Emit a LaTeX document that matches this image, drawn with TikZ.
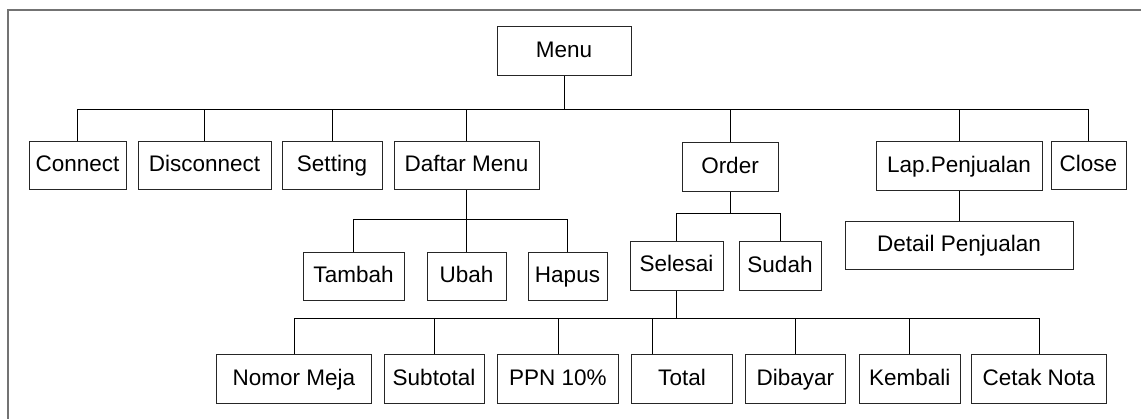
\documentclass[tikz,border=0pt]{standalone}
\usepackage{fontspec}
\setmainfont{Liberation Sans}
\begin{document}
\begin{tikzpicture}[x=1pt,y=-1pt,
  box/.style={draw=black!85, line width=1pt, inner sep=0pt, text height=16.5pt, text depth=5pt,
    font=\fontsize{22.5}{27}\selectfont, minimum height=48pt},
  link/.style={draw=black, line width=1pt},
  frame/.style={draw=black!55, line width=2pt}]
\useasboundingbox (0,0) rectangle (1141,419);
\draw[frame] (8,419) -- (8,10) -- (1141,10);
% level 0
\node[box, minimum width=134pt, minimum height=49pt] (menu) at (564,51.5) {Menu};
% level 1
\node[box, minimum width=97pt] (connect) at (77.5,166) {Connect};
\node[box, minimum width=133pt] (disconnect) at (204.5,166) {Disconnect};
\node[box, minimum width=100pt] (setting) at (332,166) {Setting};
\node[box, minimum width=145pt] (daftar) at (466.5,166) {Daftar Menu};
\node[box, minimum width=96pt, minimum height=49pt] (order) at (730,167.5) {Order};
\node[box, minimum width=166pt, minimum height=49pt] (lap) at (959,166.5) {Lap.Penjualan};
\node[box, minimum width=75pt] (close) at (1088.5,166) {Close};
% level 2
\node[box, minimum width=101pt] (tambah) at (353.5,277) {Tambah};
\node[box, minimum width=79pt] (ubah) at (466.5,277) {Ubah};
\node[box, minimum width=79pt] (hapus) at (567.5,277) {Hapus};
\node[box, minimum width=93pt, minimum height=48.5pt] (selesai) at (676.5,266.25) {Selesai};
\node[box, minimum width=82pt, minimum height=49pt] (sudah) at (780,266.5) {Sudah};
\node[box, minimum width=228pt] (detail) at (959,246) {Detail Penjualan};
% level 3
\node[box, minimum width=155pt, minimum height=49pt] (nomor) at (294,379.5) {Nomor Meja};
\node[box, minimum width=100pt, minimum height=49pt] (subtotal) at (434,379.5) {Subtotal};
\node[box, minimum width=121pt, minimum height=49pt] (ppn) at (558,379.5) {PPN 10\%};
\node[box, minimum width=101pt, minimum height=49pt] (total) at (682,379.5) {Total};
\node[box, minimum width=100pt, minimum height=49pt] (dibayar) at (795.3,379.5) {Dibayar};
\node[box, minimum width=101pt, minimum height=49pt] (kembali) at (909.8,379.5) {Kembali};
\node[box, minimum width=135pt, minimum height=49pt] (cetak) at (1039,379.5) {Cetak Nota};
% connectors: Menu
\draw[link] (menu.south) -- (menu.south |- 0,110);
\draw[link] (connect.north) -- (connect.north |- 0,110) -- (close.north |- 0,110) -- (close.north);
\foreach \n in {disconnect,setting,daftar,order,lap}
  \draw[link] (\n.north) -- (\n.north |- 0,110);
% Daftar Menu
\draw[link] (daftar.south) -- (ubah.north);
\draw[link] (tambah.north) -- (tambah.north |- 0,220) -- (hapus.north |- 0,220) -- (hapus.north);
% Order
\draw[link] (order.south) -- (order.south |- 0,214);
\draw[link] (selesai.north) -- (selesai.north |- 0,214) -- (sudah.north |- 0,214) -- (sudah.north);
% Lap.Penjualan
\draw[link] (lap.south) -- (detail.north);
% Selesai
\draw[link] (selesai.south) -- (selesai.south |- 0,319);
\draw[link] (nomor.north) -- (nomor.north |- 0,319) -- (cetak.north |- 0,319) -- (cetak.north);
\foreach \n in {subtotal,ppn,dibayar,kembali}
  \draw[link] (\n.north) -- (\n.north |- 0,319);
\draw[link] (total.north -| 652.6,0) -- (652.6,319);
\end{tikzpicture}
\end{document}
